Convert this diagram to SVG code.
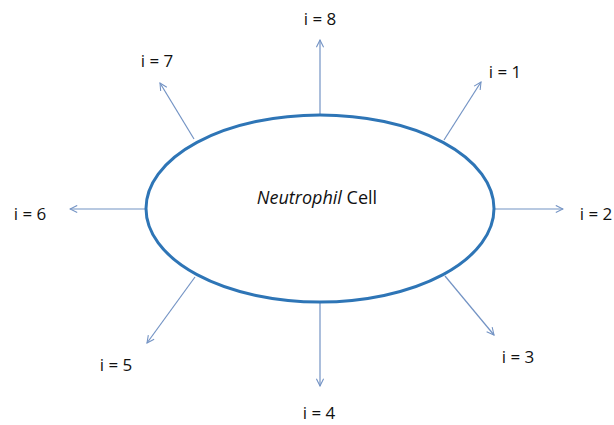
<svg xmlns="http://www.w3.org/2000/svg" width="614" height="425" viewBox="0 0 614 425">
<style>
.lbl{font-family:"Open Sans","Liberation Sans",sans-serif;font-size:17px;fill:#111;text-anchor:middle}
.arr{stroke:#7393c4;stroke-width:1.2;fill:none;marker-end:url(#h)}
</style>
<defs>
<marker id="h" viewBox="0 0 10 10" refX="9" refY="5" markerWidth="9" markerHeight="9" markerUnits="userSpaceOnUse" orient="auto">
<path d="M1,1 L9,5 L1,9" fill="none" stroke="#7393c4" stroke-width="1.2"/>
</marker>
</defs>
<rect width="614" height="425" fill="#fff"/>
<g id="connectors">
<line class="arr" x1="320" y1="115" x2="320" y2="40"/>
<line class="arr" x1="194" y1="139" x2="160" y2="83"/>
<line class="arr" x1="444" y1="140" x2="481" y2="82"/>
<line class="arr" x1="494" y1="209" x2="563" y2="209"/>
<line class="arr" x1="146" y1="209" x2="70" y2="209"/>
<line class="arr" x1="445" y1="276" x2="494" y2="335"/>
<line class="arr" x1="320" y1="302" x2="320" y2="386"/>
<line class="arr" x1="195" y1="277" x2="147" y2="343"/>
</g>
<g id="cell">
<ellipse cx="320" cy="208.5" rx="174" ry="93.5" fill="none" stroke="#2e75b6" stroke-width="3"/>
<text x="317" y="204" style="font-family:'Open Sans','Liberation Sans',sans-serif;font-size:18px;fill:#111" text-anchor="middle"><tspan font-style="italic">Neutrophil</tspan> Cell</text>
</g>
<g id="label-8"><text class="lbl" x="320" y="25">i = 8</text></g>
<g id="label-7"><text class="lbl" x="157" y="67">i = 7</text></g>
<g id="label-1"><text class="lbl" x="505" y="78">i = 1</text></g>
<g id="label-2"><text class="lbl" x="596" y="220">i = 2</text></g>
<g id="label-6"><text class="lbl" x="30" y="220">i = 6</text></g>
<g id="label-3"><text class="lbl" x="518" y="363">i = 3</text></g>
<g id="label-4"><text class="lbl" x="319" y="419">i = 4</text></g>
<g id="label-5"><text class="lbl" x="116" y="371">i = 5</text></g>
</svg>
